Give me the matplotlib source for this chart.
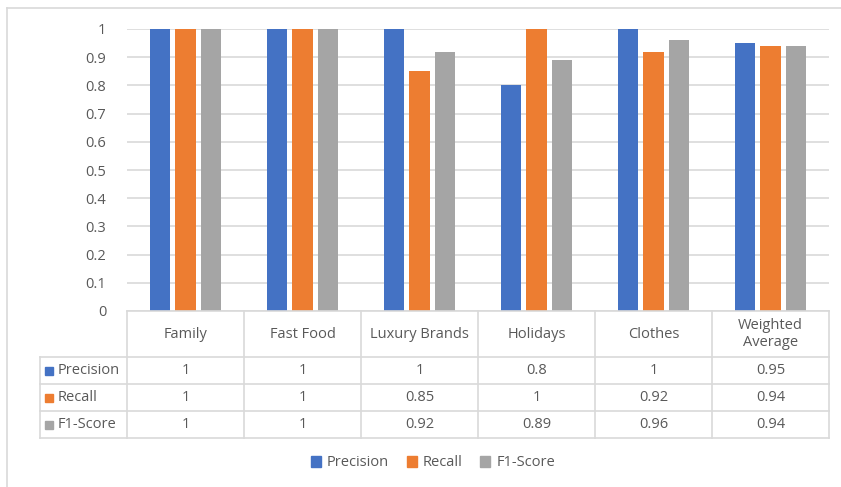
import matplotlib.pyplot as plt
from matplotlib.patches import Rectangle
from matplotlib.lines import Line2D

categories = ["Family", "Fast Food", "Luxury Brands", "Holidays", "Clothes", "Weighted\nAverage"]
series_names = ["Precision", "Recall", "F1-Score"]
precision = [1, 1, 1, 0.8, 1, 0.95]
recall = [1, 1, 0.85, 1, 0.92, 0.94]
f1_score = [1, 1, 0.92, 0.89, 0.96, 0.94]
y_ticks = [0, 0.1, 0.2, 0.3, 0.4, 0.5, 0.6, 0.7, 0.8, 0.9, 1]
y_tick_labels = ["0", "0.1", "0.2", "0.3", "0.4", "0.5", "0.6", "0.7", "0.8", "0.9", "1"]

series = [precision, recall, f1_score]
colors = ["#4472C4", "#ED7D31", "#A5A5A5"]
text_color = "#595959"
grid_color = "#D9D9D9"
font = ["Open Sans", "DejaVu Sans"]
plt.rcParams["font.family"] = font
fs = 10.5

W, H = 841, 487
fig = plt.figure(figsize=(W / 100, H / 100), dpi=100)

def fx(px):
    return px / W

def fy(py):
    return 1 - py / H

# outer chart frame
frame = fig.add_axes([0, 0, 1, 1])
frame.set_xlim(0, W)
frame.set_ylim(H, 0)
frame.axis("off")
frame.add_line(Line2D([7, 7], [8, H], color=grid_color, lw=1.2))
frame.add_line(Line2D([7, W], [8, 8], color=grid_color, lw=1.2))

# bar plot area
x0, x1, ytop, ybot = 127, 829, 29, 311
ax = fig.add_axes([fx(x0), fy(ybot), fx(x1) - fx(x0), fy(ytop) - fy(ybot)])
n = len(categories)
bw = 0.171
offs = [-0.222, 0, 0.222]
for vals, off, c in zip(series, offs, colors):
    ax.bar([i + off for i in range(n)], vals, width=bw, color=c, zorder=3)
ax.set_xlim(-0.5, n - 0.5)
ax.set_ylim(0, 1)
ax.set_yticks(y_ticks)
ax.set_yticklabels(y_tick_labels, color=text_color, fontsize=fs)
ax.tick_params(axis="y", length=0, pad=15)
ax.set_xticks([])
ax.grid(axis="y", color=grid_color, lw=1.2, zorder=0)
for s in ax.spines.values():
    s.set_visible(False)

# data table below the bars
tl = 40
tax = fig.add_axes([fx(tl), fy(438), fx(x1) - fx(tl), fy(ybot) - fy(438)])
tax.set_xlim(tl, x1)
tax.set_ylim(438, ybot)
tax.axis("off")
col_w = (x1 - x0) / n
col_edges = [x0 + i * col_w for i in range(n + 1)]
row_edges = [311, 357, 384, 411, 438]
lc = "#D9D9D9"
tax.add_line(Line2D([x0, x1], [311, 311], color=lc, lw=1.2, clip_on=False))
for y in row_edges[1:]:
    tax.add_line(Line2D([tl, x1], [y, y], color=lc, lw=1.2, clip_on=False))
for x in col_edges:
    tax.add_line(Line2D([x, x], [311, 438], color=lc, lw=1.2, clip_on=False))
tax.add_line(Line2D([tl, tl], [357, 438], color=lc, lw=1.2, clip_on=False))

for i, cat in enumerate(categories):
    cx = (col_edges[i] + col_edges[i + 1]) / 2
    tax.text(cx, (311 + 357) / 2, cat, ha="center", va="center", color=text_color,
             fontsize=fs, linespacing=1.15)
for r, (name, vals, c) in enumerate(zip(series_names, series, colors)):
    cy = (row_edges[r + 1] + row_edges[r + 2]) / 2
    tax.add_patch(Rectangle((45, cy - 4), 8, 8, color=c, clip_on=False))
    tax.text(58, cy, name, ha="left", va="center", color=text_color, fontsize=fs)
    for i, v in enumerate(vals):
        cx = (col_edges[i] + col_edges[i + 1]) / 2
        tax.text(cx, cy, f"{v:g}", ha="center", va="center", color=text_color, fontsize=fs)

# legend
handles = [Rectangle((0, 0), 1, 1, color=c) for c in colors]
fig.legend(handles, series_names, loc="center", bbox_to_anchor=(fx(433), fy(463)),
           ncol=3, frameon=False, fontsize=fs, labelcolor=text_color,
           handlelength=0.7, handleheight=0.7, handletextpad=0.4, columnspacing=1.2)

fig.savefig("out.png", dpi=100)
